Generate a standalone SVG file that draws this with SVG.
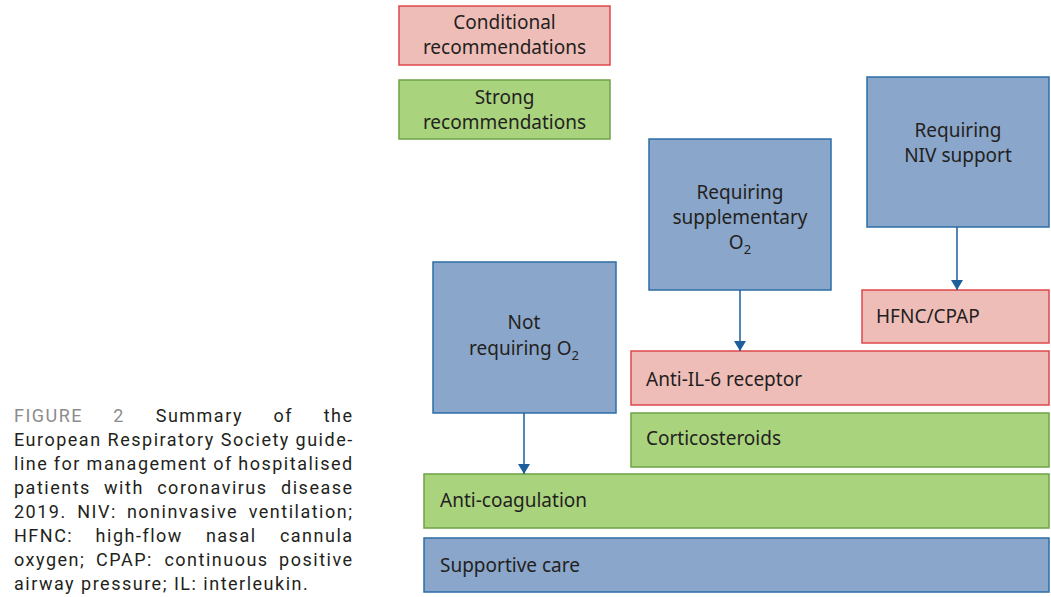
<svg xmlns="http://www.w3.org/2000/svg" width="1051" height="597" viewBox="0 0 1051 597">
<style>
.bx{stroke-width:1.5}
.pink{fill:#efbdb8;stroke:#e0474a}
.green{fill:#aad37e;stroke:#6ea346}
.blue{fill:#8aa6ca;stroke:#2d6ea6}
.t{font-family:"Noto Sans","Open Sans",sans-serif;font-size:19px;fill:#231f20}
.c{text-anchor:middle}
.sub{font-size:13px}
.cap{font-family:Roboto,"Liberation Sans",sans-serif;font-size:18px;letter-spacing:1.5px;fill:#231f20}
.gray{fill:#8c8c8c}
.conn line{stroke:#1c5f9c;stroke-width:1.5}
</style>
<defs>
<marker id="ah" viewBox="0 0 10 12" refX="10" refY="6" markerWidth="10" markerHeight="12" markerUnits="userSpaceOnUse" orient="auto">
<path d="M0,0 L10,6 L0,12 Z" fill="#1c5f9c"/>
</marker>
</defs>
<rect width="1051" height="597" fill="#fff"/>

<g id="legend-conditional">
<rect class="bx pink" x="399" y="6" width="211" height="59"/>
<text class="t c" x="504.5" y="29">Conditional</text>
<text class="t c" x="504.5" y="54">recommendations</text>
</g>
<g id="legend-strong">
<rect class="bx green" x="399" y="80" width="211" height="59"/>
<text class="t c" x="504.5" y="104">Strong</text>
<text class="t c" x="504.5" y="129">recommendations</text>
</g>

<g id="node-supp-o2">
<rect class="bx blue" x="649" y="139" width="182" height="151"/>
<text class="t c" x="740" y="199">Requiring</text>
<text class="t c" x="740" y="224">supplementary</text>
<text class="t c" x="740" y="249">O<tspan class="sub" dy="5">2</tspan></text>
</g>
<g id="node-niv">
<rect class="bx blue" x="867" y="77" width="182" height="150"/>
<text class="t c" x="958" y="137">Requiring</text>
<text class="t c" x="958" y="162">NIV support</text>
</g>
<g id="node-not-o2">
<rect class="bx blue" x="433" y="262" width="183" height="151"/>
<text class="t c" x="524" y="329">Not</text>
<text class="t c" x="524" y="355">requiring O<tspan class="sub" dy="5">2</tspan></text>
</g>
<g id="node-hfnc">
<rect class="bx pink" x="862" y="290" width="187" height="53"/>
<text class="t" x="876" y="323">HFNC/CPAP</text>
</g>
<g id="node-il6">
<rect class="bx pink" x="631" y="351" width="418" height="54"/>
<text class="t" x="646" y="386">Anti-IL-6 receptor</text>
</g>
<g id="node-cortico">
<rect class="bx green" x="631" y="413" width="418" height="54"/>
<text class="t" x="646" y="445">Corticosteroids</text>
</g>
<g id="node-anticoag">
<rect class="bx green" x="424" y="474" width="625" height="54"/>
<text class="t" x="440" y="507">Anti-coagulation</text>
</g>
<g id="node-supportive">
<rect class="bx blue" x="424" y="538" width="625" height="54"/>
<text class="t" x="440" y="572">Supportive care</text>
</g>

<g id="connectors" class="conn">
<line x1="740" y1="290" x2="740" y2="351" marker-end="url(#ah)"/>
<line x1="957" y1="227" x2="957" y2="290" marker-end="url(#ah)"/>
<line x1="524" y1="413" x2="524" y2="474" marker-end="url(#ah)"/>
</g>

<g id="caption" class="cap">
<text y="422"><tspan class="gray" x="14">FIGURE</tspan><tspan class="gray" x="113.3">2</tspan><tspan x="155.7">Summary</tspan><tspan x="273.5">of</tspan><tspan x="323.7">the</tspan></text>
<text y="446"><tspan x="14">European</tspan><tspan x="107.6">Respiratory</tspan><tspan x="220.7">Society</tspan><tspan x="295.6">guide-</tspan></text>
<text y="470"><tspan x="14">line</tspan><tspan x="53.8">for</tspan><tspan x="86.6">management</tspan><tspan x="213.2">of</tspan><tspan x="238.3">hospitalised</tspan></text>
<text y="494"><tspan x="14">patients</tspan><tspan x="104.1">with</tspan><tspan x="157.2">coronavirus</tspan><tspan x="281.1">disease</tspan></text>
<text y="518"><tspan x="14">2019.</tspan><tspan x="77.2">NIV:</tspan><tspan x="126.9">noninvasive</tspan><tspan x="248.7">ventilation;</tspan></text>
<text y="542"><tspan x="14">HFNC:</tspan><tspan x="95.6">high-flow</tspan><tspan x="205.9">nasal</tspan><tspan x="279.9">cannula</tspan></text>
<text y="566"><tspan x="14">oxygen;</tspan><tspan x="96.1">CPAP:</tspan><tspan x="164.4">continuous</tspan><tspan x="279.1">positive</tspan></text>
<text y="590" x="14">airway pressure; IL: interleukin.</text>
</g>
</svg>
